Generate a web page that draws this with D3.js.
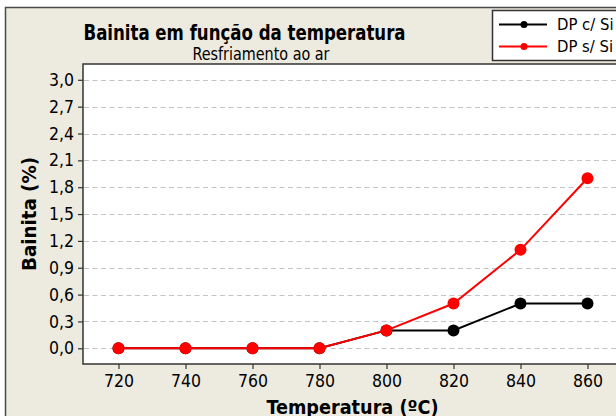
<!DOCTYPE html>
<html>
<head>
<meta charset="utf-8">
<script src="https://cdn.jsdelivr.net/npm/d3@7"></script>
<style>
  html, body { margin: 0; padding: 0; background: #ffffff; }
  svg { display: block; }
  text { font-family: "DejaVu Sans Condensed", "DejaVu Sans", sans-serif; fill: #000; }
</style>
</head>
<body>
<script>
// Temperatures (ºC) and bainite fraction (%) for both series
const temperatures = [720, 740, 760, 780, 800, 820, 840, 860];
const bainitaComSi = [0, 0, 0, 0, 0.2, 0.2, 0.5, 0.5];
const bainitaSemSi = [0, 0, 0, 0, 0.2, 0.5, 1.1, 1.9];
const seriesNames = ["DP c/ Si", "DP s/ Si"];
const seriesColors = ["#000000", "#ff0000"];
const yTickValues = [0, 0.3, 0.6, 0.9, 1.2, 1.5, 1.8, 2.1, 2.4, 2.7, 3.0];
const xTickValues = [720, 740, 760, 780, 800, 820, 840, 860];

const W = 616, H = 416;
const svg = d3.select("body").append("svg").attr("width", W).attr("height", H);

// Outer panel
svg.append("rect")
  .attr("x", 5.5).attr("y", 7.5).attr("width", 640).attr("height", 440)
  .attr("fill", "#edeadf").attr("stroke", "#4a4a4a").attr("stroke-width", 1.5);

// Plot region
const plot = { left: 83, top: 64, right: 640, bottom: 364 };
svg.append("rect")
  .attr("x", plot.left).attr("y", plot.top)
  .attr("width", plot.right - plot.left).attr("height", plot.bottom - plot.top)
  .attr("fill", "#ffffff").attr("stroke", "#333333").attr("stroke-width", 1.5);

const x = d3.scaleLinear().domain([720, 860]).range([118.5, 587.5]);
const y = d3.scaleLinear().domain([0, 3]).range([348.3, 79.8]);

// Dashed horizontal grid
svg.append("g").selectAll("line").data(yTickValues).join("line")
  .attr("x1", plot.left + 1).attr("x2", W)
  .attr("y1", d => Math.round(y(d)) + 0.5).attr("y2", d => Math.round(y(d)) + 0.5)
  .attr("stroke", "#c4c4c4").attr("stroke-width", 1.2)
  .attr("stroke-dasharray", "5,3.5");

// Axes
const fmt = d => d3.format(".1f")(d).replace(".", ",");
const yAxis = svg.append("g").attr("transform", `translate(${plot.left},0)`)
  .call(d3.axisLeft(y).tickValues(yTickValues).tickFormat(fmt).tickSize(5).tickPadding(4));
const xAxis = svg.append("g").attr("transform", `translate(0,${plot.bottom})`)
  .call(d3.axisBottom(x).tickValues(xTickValues).tickFormat(d3.format("d")).tickSize(5).tickPadding(6));
[yAxis, xAxis].forEach(g => {
  g.select(".domain").remove();
  g.selectAll(".tick line").attr("stroke", "#333333").attr("stroke-width", 1.2);
  g.selectAll(".tick text")
    .style("font-family", '"DejaVu Sans Condensed", "DejaVu Sans", sans-serif')
    .style("font-size", "17.5px").attr("fill", "#000");
});

// Series lines and markers
const seriesData = [bainitaComSi, bainitaSemSi];
const line = d3.line().x((d, i) => x(temperatures[i])).y(d => y(d));
seriesData.forEach((vals, s) => {
  svg.append("path").datum(vals)
    .attr("d", line).attr("fill", "none")
    .attr("stroke", seriesColors[s]).attr("stroke-width", 2);
  svg.append("g").selectAll("circle").data(vals).join("circle")
    .attr("cx", (d, i) => x(temperatures[i])).attr("cy", d => y(d))
    .attr("r", 6).attr("fill", seriesColors[s]);
});

// Titles
svg.append("text").attr("x", 244.5).attr("y", 40).attr("text-anchor", "middle")
  .style("font-size", "21px").style("font-weight", "bold")
  .attr("textLength", 322).attr("lengthAdjust", "spacingAndGlyphs")
  .text("Bainita em função da temperatura");
svg.append("text").attr("x", 261).attr("y", 59.5).attr("text-anchor", "middle")
  .style("font-size", "17.5px")
  .attr("textLength", 137).attr("lengthAdjust", "spacingAndGlyphs")
  .text("Resfriamento ao ar");
svg.append("text").attr("transform", "translate(36,214) rotate(-90)").attr("text-anchor", "middle")
  .style("font-size", "19px").style("font-weight", "bold")
  .attr("textLength", 114).attr("lengthAdjust", "spacingAndGlyphs")
  .text("Bainita (%)");
svg.append("text").attr("x", 352.5).attr("y", 413.5).attr("text-anchor", "middle")
  .style("font-size", "19px").style("font-weight", "bold")
  .attr("textLength", 172).attr("lengthAdjust", "spacingAndGlyphs")
  .text("Temperatura (ºC)");

// Legend
svg.append("rect").attr("x", 492.5).attr("y", 10.5).attr("width", 140).attr("height", 50)
  .attr("fill", "#ffffff").attr("stroke", "#333333").attr("stroke-width", 1.5);
const legendY = [24.5, 46.5];
seriesNames.forEach((name, s) => {
  const g = svg.append("g");
  g.append("line").attr("x1", 499).attr("x2", 547)
    .attr("y1", legendY[s]).attr("y2", legendY[s])
    .attr("stroke", seriesColors[s]).attr("stroke-width", 2);
  g.append("circle").attr("cx", 524).attr("cy", legendY[s]).attr("r", 3.5).attr("fill", seriesColors[s]);
  g.append("text").attr("x", 557).attr("y", legendY[s] + 5.5)
    .style("font-size", "16.5px").text(name);
});
</script>
</body>
</html>
